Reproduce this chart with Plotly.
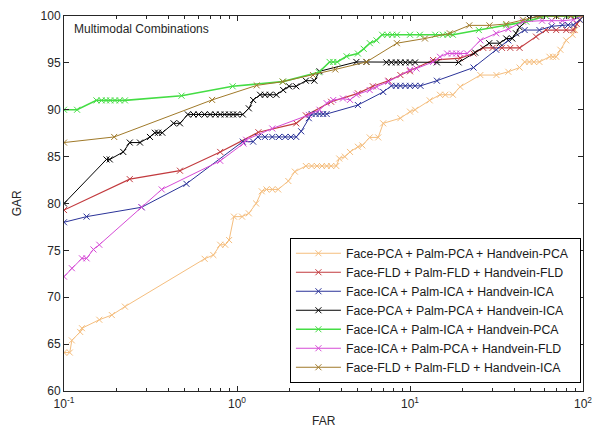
import plotly.graph_objects as go

# ---- data ----
names = [
    "Face-PCA + Palm-PCA + Handvein-PCA",
    "Face-FLD + Palm-FLD + Handvein-FLD",
    "Face-ICA + Palm-ICA + Handvein-ICA",
    "Face-PCA + Palm-PCA + Handvein-ICA",
    "Face-ICA + Palm-ICA + Handvein-PCA",
    "Face-ICA + Palm-PCA + Handvein-FLD",
    "Face-FLD + Palm-FLD + Handvein-ICA",
]

far_pca3 = [0.1, 0.108, 0.111, 0.124, 0.127, 0.16, 0.189, 0.225, 0.65, 0.73, 0.8, 0.855, 0.9, 0.96, 1.07,
            1.17, 1.29, 1.39, 1.48, 1.6, 1.73, 1.98, 2.16, 2.5, 2.7, 2.9, 3.1, 3.3, 3.5, 3.75, 3.9, 4.2,
            4.5, 5.0, 5.3, 5.85, 6.55, 7.0, 8.8, 10, 10.7, 13, 14.9, 16, 17.7, 19.5, 25.5, 31.6, 37, 43,
            46, 49, 52, 56, 64, 67, 70, 74, 80, 87, 90, 95, 100]
gar_pca3 = [64.1, 64.1, 65.4, 66.3, 66.7, 67.6, 68.1, 69.0, 74.1, 74.5, 75.6, 75.6, 76.1, 78.6, 78.6,
            78.95, 80.0, 81.3, 81.5, 81.5, 81.5, 82.4, 83.4, 84.0, 84.0, 84.0, 84.0, 84.0, 84.0, 84.0, 84.8, 85.0,
            85.5, 86.05, 86.2, 87.05, 87.05, 88.55, 89.1, 89.8, 90.0, 91.0, 91.6, 91.6, 91.6, 92.45, 93.7, 93.7, 94.05, 94.5,
            95.1, 95.1, 95.1, 95.1, 95.65, 95.65, 95.65, 96.4, 97.4, 98.0, 98.5, 99.6, 100]

far_fld3 = [0.1, 0.24, 0.468, 0.8, 1.33, 2.2, 2.5, 3.5, 5.0, 6.1, 7.5, 8.8, 10, 13.6, 19.5, 23.3, 26.5,
            30, 34, 38, 43, 53.5, 61, 70, 80, 88, 92, 100]
gar_fld3 = [79.3, 82.6, 83.5, 85.5, 87.6, 88.55, 89.4, 90.85, 91.75, 92.5, 93.1, 93.7, 94.1, 95.3, 95.5, 96.0, 96.6,
            96.6, 96.6, 96.6, 96.6, 97.8, 98.5, 98.5, 98.5, 98.5, 99.15, 100]

far_ica3 = [0.1, 0.135, 0.281, 0.51, 1.08, 1.24, 1.32, 1.45, 1.6, 1.75, 1.9, 2.05, 2.2, 2.35, 2.6, 2.7, 2.85,
            3.0, 3.15, 3.3, 5.0, 7.0, 7.8, 8.3, 8.8, 9.4, 10, 10.7, 11.5, 14.3, 23.3, 31.5, 37, 46, 56, 66, 76,
            82, 88, 96, 100]
gar_ica3 = [78.0, 78.6, 79.6, 82.1, 86.6, 86.6, 87.1, 87.1, 87.1, 87.1, 87.1, 87.1, 87.1, 87.7, 89.1, 89.55, 89.55,
            89.55, 89.55, 89.55, 90.5, 91.9, 92.55, 92.55, 92.55, 92.55, 92.55, 92.55, 92.55, 93.1, 94.5, 96.4, 97.4, 98.5, 98.5, 98.9, 99.05,
            99.05, 99.05, 99.6, 100]

far_ppi = [0.1, 0.176, 0.184, 0.22, 0.24, 0.275, 0.314, 0.335, 0.35, 0.37, 0.43, 0.468, 0.52, 0.56, 0.6,
           0.65, 0.7, 0.75, 0.8, 0.85, 0.9, 0.95, 1.0, 1.08, 1.17, 1.24, 1.36, 1.45, 1.55, 1.69, 1.85, 2.0, 2.2,
           2.5, 2.8, 3.0, 4.9, 5.6, 7.3, 7.8, 8.3, 8.8, 9.4, 10, 10.7, 14.3, 19.1, 23.8, 28.7, 33, 36, 39, 41,
           43, 49, 56, 70, 85, 100]
gar_ppi = [80.0, 84.7, 84.7, 85.5, 86.5, 86.5, 87.1, 87.55, 87.55, 87.55, 88.55, 88.55, 89.5, 89.5, 89.5,
           89.5, 89.5, 89.5, 89.5, 89.5, 89.5, 89.5, 89.5, 89.5, 90.15, 91.04, 91.6, 91.6, 91.6, 91.6, 92.1, 92.5, 92.5,
           93.1, 93.1, 94.1, 95.1, 95.1, 95.05, 95.05, 95.05, 95.05, 95.05, 95.05, 95.05, 95.05, 95.05, 96.1, 97.1, 97.1, 97.6, 97.6, 98.15,
           98.8, 99.75, 100, 100, 100, 100]

far_iip = [0.1, 0.119, 0.154, 0.165, 0.175, 0.185, 0.197, 0.21, 0.225, 0.478, 0.944, 1.84, 2.97, 3.43, 3.6,
           3.8, 4.3, 5.0, 5.4, 5.86, 6.4, 6.9, 7.4, 7.9, 8.4, 10, 11.4, 14, 15.5, 16.5, 17.7, 25, 36, 47, 61,
           70, 80, 90, 100]
gar_iip = [90, 90, 91, 91, 91, 91, 91, 91, 91, 91.5, 92.5, 93, 94, 95.1, 95.1,
           95.1, 95.7, 96, 96.5, 97.1, 97.4, 98, 98, 98, 98, 98, 98, 98, 98, 98, 98, 98.5, 99, 99.4, 100,
           100, 100, 100, 100]

far_ipf = [0.1, 0.111, 0.127, 0.135, 0.148, 0.16, 0.28, 0.367, 0.8, 1.09, 1.13, 1.6, 2.6, 3.0, 3.3, 3.6,
           4.1, 4.5, 4.9, 5.85, 6.4, 7.5, 10, 10.9, 13.6, 14.9, 16.4, 17.5, 18.5, 19.5, 21.4, 25.5, 31.5, 37,
           45, 58, 66, 76, 88, 100]
gar_ipf = [72.2, 73.1, 74.15, 74.15, 75.1, 75.6, 79.6, 81.5, 84.55, 86.4, 86.8, 88.0, 89.45, 90.0, 90.7, 91.04,
           91.2, 91.05, 91.6, 92.1, 92.45, 93.0, 94.25, 94.4, 95.1, 95.65, 96.0, 96.0, 96.0, 96.0, 96.0, 97.4, 98.15, 98.6,
           99.4, 99.5, 99.5, 99.5, 99.6, 100]

far_ffi = [0.1, 0.195, 0.718, 1.3, 1.84, 2.75, 3.7, 5.6, 8.4, 12.2, 17, 22, 28.8, 36, 45, 56, 70, 85, 100]
gar_ffi = [86.5, 87.1, 91.05, 92.6, 93.0, 93.7, 94.3, 95.1, 97.1, 97.6, 98.15, 99, 99, 99.15, 99.6, 100, 100, 100, 100]

x_tick_vals = [0.1, 1, 10, 100]
x_tick_text = ["10<sup>-1</sup>", "10<sup>0</sup>", "10<sup>1</sup>", "10<sup>2</sup>"]
x_minor_vals = [m * d for d in (0.1, 1, 10) for m in range(2, 10)]
y_tick_vals = [60, 65, 70, 75, 80, 85, 90, 95, 100]

series_far = [far_pca3, far_fld3, far_ica3, far_ppi, far_iip, far_ipf, far_ffi]
series_gar = [gar_pca3, gar_fld3, gar_ica3, gar_ppi, gar_iip, gar_ipf, gar_ffi]

colors = ["#F5BE7E", "#C23A3E", "#2B3399", "#000000", "#44DD44", "#D64BD6", "#A07A2A"]
widths = [1, 1.2, 1, 1, 1.6, 1, 1]

FONT = "Liberation Sans, Arial, sans-serif"
INK = "#262626"

fig = go.Figure()
for nm, fx, gy, c, w in zip(names, series_far, series_gar, colors, widths):
    fig.add_trace(go.Scatter(
        x=fx, y=gy, name=nm + "\u00a0" * 2, mode="lines+markers",
        line=dict(color=c, width=w),
        marker=dict(symbol="x-thin", size=6, line=dict(width=1, color=c), color=c),
    ))

axis_common = dict(
    showline=True, linecolor=INK, linewidth=1, mirror="ticks", automargin=False,
    ticks="inside", ticklen=5, tickcolor=INK, showgrid=False, zeroline=False,
    tickfont=dict(family=FONT, size=12, color=INK),
)

fig.update_layout(
    width=602, height=430,
    margin=dict(l=64, r=19, t=16, b=39),
    paper_bgcolor="white", plot_bgcolor="white",
    font=dict(family=FONT, size=12, color=INK),
    xaxis=dict(type="log", range=[-1, 2], tickmode="array", tickvals=x_tick_vals, ticktext=x_tick_text,
               ticklabelstandoff=2,
               minor=dict(tickmode="array", tickvals=x_minor_vals, ticks="inside", ticklen=3, tickcolor=INK),
               **axis_common),
    yaxis=dict(range=[60, 100], tickmode="array", tickvals=y_tick_vals, **axis_common),
    legend=dict(x=0.996, xanchor="right", y=0.022, yanchor="bottom",
                bgcolor="white", bordercolor="#000000", borderwidth=1, itemwidth=45,
                font=dict(family=FONT, size=12.3, color="#1a1a1a"), tracegroupgap=0),
    showlegend=True,
    annotations=[
        dict(text="Multimodal Combinations", xref="paper", yref="paper",
             x=0.016, y=0.965, xanchor="left", yanchor="middle", showarrow=False,
             font=dict(size=12, color=INK)),
        dict(text="FAR", xref="paper", yref="paper", x=0.5, y=-0.081,
             xanchor="center", yanchor="middle", showarrow=False, font=dict(size=12, color=INK)),
        dict(text="GAR", xref="paper", yref="paper", x=-0.091, y=0.5, textangle=-90,
             xanchor="center", yanchor="middle", showarrow=False, font=dict(size=12, color=INK)),
    ],
)

fig.write_html("out.html", config={"displayModeBar": False},
               post_script="document.body.style.margin='0';document.body.style.overflow='hidden';")
